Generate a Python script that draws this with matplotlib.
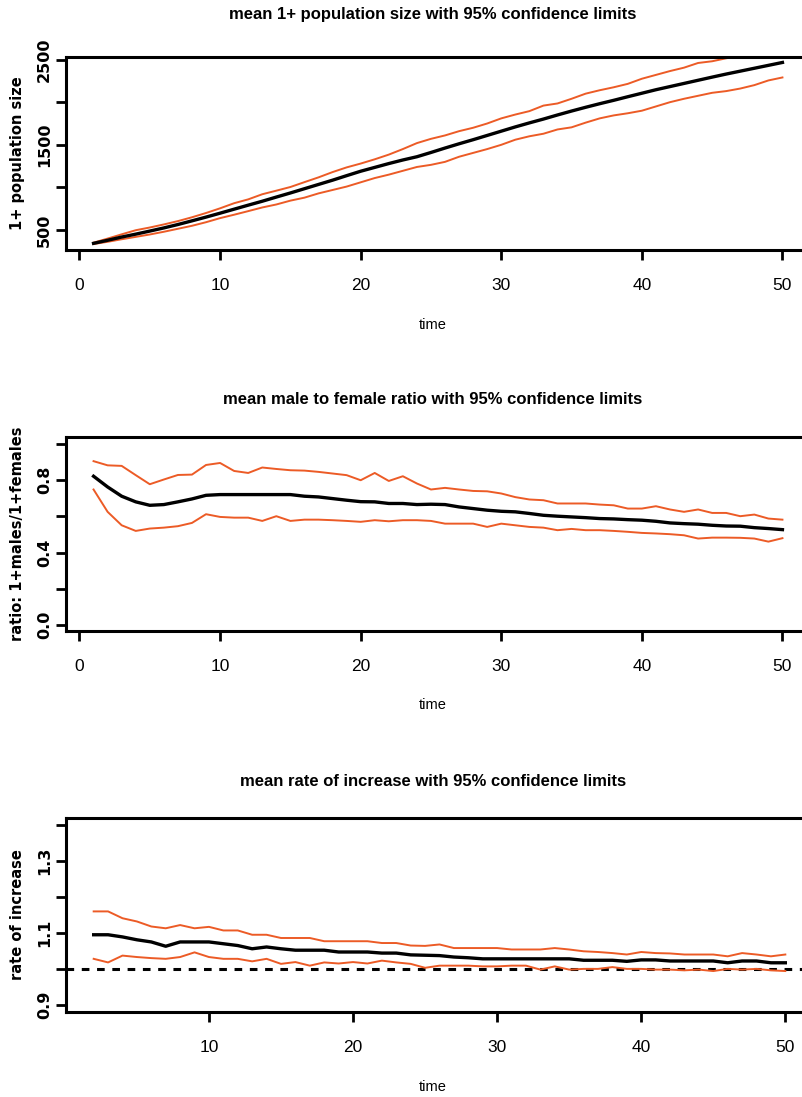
import numpy as np
import matplotlib
matplotlib.use("Agg")
import matplotlib.pyplot as plt
from matplotlib import font_manager

# narrow face for titles and tick numbers, plain bold for the y labels
names = {f.name for f in font_manager.fontManager.ttflist}
narrow = "Liberation Sans Narrow" if "Liberation Sans Narrow" in names else "Liberation Sans"

orange = "#EC5B26"

# mean 1+ population size, t = 1..50
time = np.arange(1, 51)
pop_mean = [344, 380, 418, 452, 488, 525, 565, 608, 652, 698,
            745, 792, 838, 887, 935, 985, 1035, 1085, 1138, 1190,
            1235, 1280, 1322, 1360, 1410, 1462, 1512, 1560, 1610, 1660,
            1710, 1757, 1802, 1850, 1896, 1940, 1982, 2022, 2064, 2105,
            2146, 2183, 2220, 2257, 2294, 2330, 2364, 2398, 2432, 2466]
pop_upper = [352, 400, 450, 498, 530, 566, 605, 650, 700, 755,
             815, 860, 920, 962, 1005, 1062, 1118, 1180, 1235, 1280,
             1330, 1385, 1450, 1520, 1570, 1610, 1660, 1700, 1750, 1810,
             1855, 1895, 1960, 1985, 2040, 2100, 2140, 2175, 2215, 2275,
             2320, 2365, 2405, 2460, 2480, 2515, 2545, 2575, 2610, 2645]
pop_lower = [336, 362, 392, 420, 448, 480, 515, 550, 592, 640,
             680, 722, 765, 800, 845, 880, 930, 970, 1010, 1060,
             1110, 1150, 1195, 1240, 1265, 1300, 1360, 1405, 1450, 1500,
             1560, 1600, 1630, 1680, 1705, 1760, 1810, 1845, 1870, 1900,
             1950, 2000, 2040, 2075, 2110, 2130, 2160, 2200, 2255, 2290]

# mean male to female ratio, t = 1..50
ratio_mean = [0.820, 0.761, 0.710, 0.679, 0.660, 0.664, 0.679, 0.695, 0.715, 0.719,
              0.719, 0.719, 0.719, 0.719, 0.719, 0.710, 0.706, 0.697, 0.688, 0.680,
              0.679, 0.670, 0.670, 0.664, 0.666, 0.664, 0.651, 0.642, 0.633, 0.627,
              0.624, 0.615, 0.605, 0.600, 0.596, 0.592, 0.587, 0.585, 0.581, 0.578,
              0.572, 0.563, 0.559, 0.556, 0.550, 0.546, 0.545, 0.537, 0.532, 0.526]
ratio_upper = [0.903, 0.880, 0.877, 0.826, 0.776, 0.802, 0.827, 0.829, 0.882, 0.893,
               0.849, 0.838, 0.868, 0.860, 0.853, 0.851, 0.844, 0.835, 0.826, 0.798,
               0.838, 0.794, 0.820, 0.780, 0.747, 0.756, 0.747, 0.739, 0.737, 0.725,
               0.705, 0.692, 0.688, 0.670, 0.670, 0.670, 0.664, 0.660, 0.642, 0.642,
               0.655, 0.637, 0.624, 0.637, 0.618, 0.618, 0.600, 0.609, 0.587, 0.581]
ratio_lower = [0.747, 0.624, 0.550, 0.519, 0.532, 0.537, 0.545, 0.563, 0.611, 0.596,
               0.592, 0.592, 0.574, 0.600, 0.574, 0.581, 0.581, 0.578, 0.574, 0.569,
               0.578, 0.572, 0.578, 0.578, 0.574, 0.559, 0.559, 0.559, 0.541, 0.559,
               0.550, 0.541, 0.537, 0.523, 0.530, 0.523, 0.523, 0.519, 0.514, 0.508,
               0.505, 0.501, 0.495, 0.477, 0.482, 0.482, 0.481, 0.477, 0.460, 0.479]

# mean rate of increase, t = 2..50
rate_time = np.arange(2, 51)
rate_mean = [1.095, 1.095, 1.089, 1.081, 1.075, 1.063, 1.075, 1.075, 1.075, 1.070,
             1.065, 1.056, 1.061, 1.056, 1.052, 1.052, 1.052, 1.047, 1.047, 1.047,
             1.044, 1.044, 1.039, 1.038, 1.037, 1.033, 1.031, 1.028, 1.028, 1.028,
             1.028, 1.028, 1.028, 1.028, 1.024, 1.024, 1.024, 1.021, 1.025, 1.025,
             1.022, 1.022, 1.022, 1.022, 1.017, 1.022, 1.022, 1.017, 1.017]
rate_upper = [1.160, 1.160, 1.141, 1.132, 1.118, 1.113, 1.122, 1.113, 1.117, 1.107,
              1.107, 1.095, 1.095, 1.086, 1.086, 1.086, 1.077, 1.077, 1.077, 1.077,
              1.072, 1.072, 1.065, 1.064, 1.068, 1.058, 1.058, 1.058, 1.058, 1.054,
              1.054, 1.054, 1.058, 1.054, 1.049, 1.047, 1.044, 1.040, 1.047, 1.044,
              1.043, 1.040, 1.040, 1.040, 1.035, 1.044, 1.040, 1.035, 1.040]
rate_lower = [1.028, 1.018, 1.037, 1.033, 1.030, 1.028, 1.033, 1.046, 1.033, 1.028,
              1.028, 1.021, 1.028, 1.014, 1.019, 1.009, 1.018, 1.015, 1.019, 1.015,
              1.023, 1.018, 1.014, 1.003, 1.009, 1.009, 1.009, 1.007, 1.007, 1.009,
              1.009, 0.998, 1.007, 0.998, 1.000, 1.000, 1.005, 1.000, 1.000, 0.998,
              0.998, 0.996, 0.998, 0.994, 1.000, 0.998, 1.000, 0.996, 0.994]

W, H = 803, 1097
fig = plt.figure(figsize=(W / 100, H / 100), dpi=100)
fig.patch.set_facecolor("white")


def px_axes(left, top, right, bottom):
    return fig.add_axes([left / W, 1 - bottom / H, (right - left) / W, (bottom - top) / H])


def style(ax, xlim, ylim, xticks, yticks, ylabels):
    ax.set_xlim(*xlim)
    ax.set_ylim(*ylim)
    for s in ax.spines.values():
        s.set_linewidth(2.2)
        s.set_zorder(5)
    ax.set_xticks(xticks)
    ax.set_xticklabels([str(v) for v in xticks], fontfamily=narrow, fontsize=12.5)
    ax.set_yticks(yticks)
    ax.set_yticklabels(ylabels, rotation=90, va="center", fontweight="bold", fontsize=11.5)
    ax.tick_params(axis="x", length=7, width=2, pad=13)
    ax.tick_params(axis="y", length=7, width=2, pad=3)


def titles(ax, title, ylabel, title_y, time_y):
    x0, y0, w, h = ax.get_position().bounds
    fig.text(433 / W, 1 - title_y / H, title, ha="center", va="center",
             fontfamily=narrow, fontweight="bold", fontsize=12)
    fig.text(433 / W, 1 - time_y / H, "time", ha="center", va="center",
             fontfamily=narrow, fontsize=10.5)
    fig.text(18 / W, y0 + h / 2, ylabel, ha="center", va="center", rotation=90,
             fontweight="bold", fontsize=10.5)


# population size
ax1 = px_axes(66, 57, 810, 250)
ax1.plot(time, pop_upper, color=orange, lw=1.4)
ax1.plot(time, pop_lower, color=orange, lw=1.4)
ax1.plot(time, pop_mean, color="black", lw=2.4)
style(ax1, (-0.96, 51.96), (266, 2530), [0, 10, 20, 30, 40, 50],
      [500, 1000, 1500, 2000, 2500], ["500", "", "1500", "", "2500"])
titles(ax1, "mean 1+ population size with 95% confidence limits",
       "1+ population size", 14, 325)

# sex ratio
ax2 = px_axes(66, 437, 810, 631)
ax2.plot(time, ratio_upper, color=orange, lw=1.4)
ax2.plot(time, ratio_lower, color=orange, lw=1.4)
ax2.plot(time, ratio_mean, color="black", lw=2.4)
style(ax2, (-0.96, 51.96), (-0.032, 1.036), [0, 10, 20, 30, 40, 50],
      [0, 0.2, 0.4, 0.6, 0.8, 1.0], ["0.0", "", "0.4", "", "0.8", ""])
titles(ax2, "mean male to female ratio with 95% confidence limits",
       "ratio: 1+males/1+females", 399, 705)

# rate of increase
ax3 = px_axes(66, 818, 813, 1012)
ax3.axhline(1.0, color="black", lw=2.2, ls=(0, (2.5, 2.5)))
ax3.plot(rate_time, rate_upper, color=orange, lw=1.4)
ax3.plot(rate_time, rate_lower, color=orange, lw=1.4)
ax3.plot(rate_time, rate_mean, color="black", lw=2.4)
style(ax3, (0.08, 51.92), (0.88, 1.42), [10, 20, 30, 40, 50],
      [0.9, 1.0, 1.1, 1.2, 1.3, 1.4], ["0.9", "", "1.1", "", "1.3", ""])
titles(ax3, "mean rate of increase with 95% confidence limits",
       "rate of increase", 781, 1087)

fig.savefig("out.png", dpi=100, facecolor="white")
